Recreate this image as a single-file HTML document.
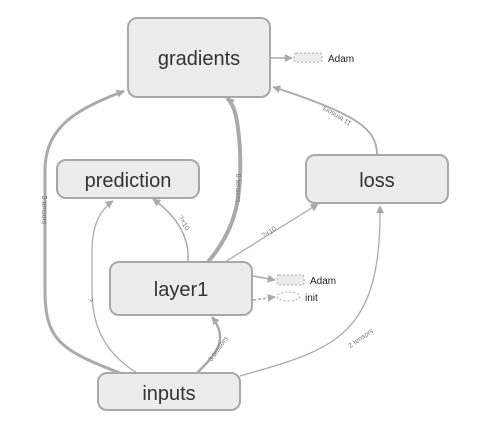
<!DOCTYPE html>
<html><head><style>
body{margin:0;background:#fff;}
svg{display:block;font-family:"Liberation Sans",sans-serif;}
</style></head><body>
<svg width="498" height="422" viewBox="0 0 498 422" xmlns="http://www.w3.org/2000/svg">
<defs>
<marker id="b" viewBox="0 0 10 10" refX="9" refY="5" markerWidth="9" markerHeight="8" orient="auto" markerUnits="userSpaceOnUse"><path d="M0,0L10,5L0,10z" fill="#aaa"/></marker>
</defs>
<g fill="none" stroke="#aaa">
<path d="M120,373 C60,350 45,340 45,290 L45,170 C45,125 80,108 124,91" stroke-width="3" marker-end="url(#b)"/>
<path d="M137,373 C100,350 92,320 92,290 L92,250 C92,225 100,210 113,201" stroke-width="1.3" marker-end="url(#b)"/>
<path d="M197,373 C215,355 230,340 212,317" stroke-width="2.5" marker-end="url(#b)"/>
<path d="M240,376 C330,350 382,340 380,206" stroke-width="1.3" marker-end="url(#b)"/>
<path d="M188,262 C190,235 175,215 153,199" stroke-width="1.5" marker-end="url(#b)"/>
<path d="M208,262 C235,230 242,200 240,150 C238,120 235,105 227,98" stroke-width="4" marker-end="url(#b)"/>
<path d="M225,262 L318,204" stroke-width="1.3" marker-end="url(#b)"/>
<path d="M377,155 C377,130 360,115 273,87" stroke-width="1.8" marker-end="url(#b)"/>
<path d="M270,58 L292,58" stroke-width="1.5" marker-end="url(#b)"/>
<path d="M253,276 L275,280" stroke-width="1.5" marker-end="url(#b)"/>
<path d="M253,300 L275,297" stroke-width="1.5" stroke-dasharray="3,2" marker-end="url(#b)"/>
</g>
<g fill="#ececec" stroke="#a8a8a8" stroke-width="2">
<rect x="128" y="18" width="142" height="79" rx="9"/>
<rect x="57" y="160" width="142" height="38" rx="9"/>
<rect x="306" y="155" width="142" height="48" rx="9"/>
<rect x="110" y="262" width="142" height="53" rx="9"/>
<rect x="98" y="373" width="142" height="37" rx="9"/>
</g>
<g fill="#ececec" stroke="#aaa" stroke-width="1" stroke-dasharray="2,2">
<rect x="294" y="53" width="28" height="9" rx="2"/>
<rect x="277" y="275" width="27" height="10" rx="2"/>
<ellipse cx="288.5" cy="296.5" rx="11.5" ry="4.5" fill="#fff"/>
</g>
<g fill="#333" font-size="20" text-anchor="middle">
<text x="199" y="65">gradients</text>
<text x="128" y="187">prediction</text>
<text x="377" y="187">loss</text>
<text x="181" y="296">layer1</text>
<text x="169" y="400">inputs</text>
</g>
<g fill="#222" font-size="10">
<text x="328" y="62">Adam</text>
<text x="310" y="284">Adam</text>
<text x="305" y="301">init</text>
</g>
<g fill="#777" font-size="7">
<text transform="translate(42,210) rotate(90)" text-anchor="middle">5 tensors</text>
<text transform="translate(88,300) rotate(90)" text-anchor="middle">?</text>
<text transform="translate(236,188) rotate(90)" text-anchor="middle">8 tensors</text>
<text transform="translate(182,224) rotate(60)" text-anchor="middle">?×10</text>
<text transform="translate(270,234) rotate(-32)" text-anchor="middle">?×10</text>
<text transform="translate(338,114) rotate(-150)" text-anchor="middle">11 tensors</text>
<text transform="translate(220,350) rotate(-55)" text-anchor="middle">3 tensors</text>
<text transform="translate(362,340) rotate(-35)" text-anchor="middle">2 tensors</text>
</g>
</svg>
</body></html>
